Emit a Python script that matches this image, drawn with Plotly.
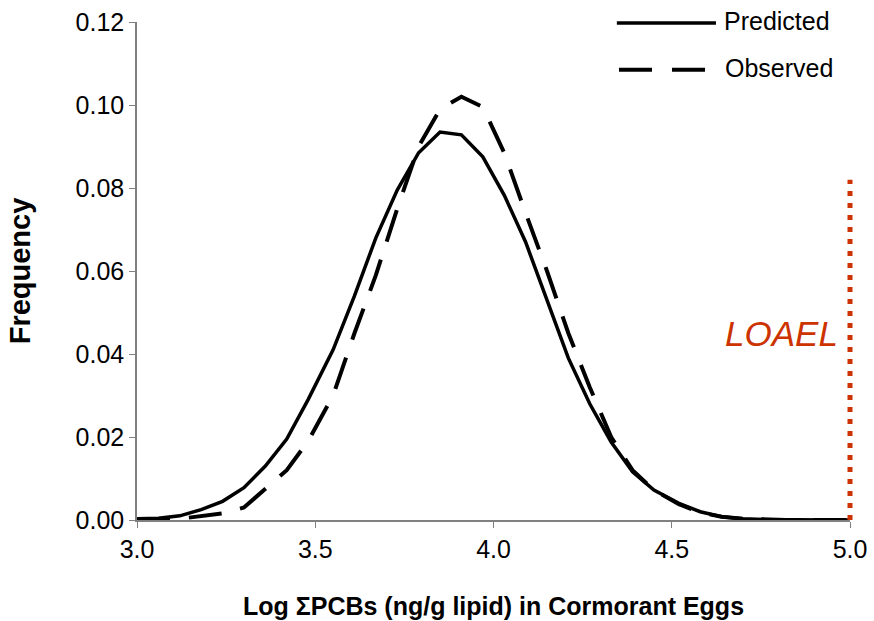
import plotly.graph_objects as go

# Log10 total PCB concentration bins (ng/g lipid)
log_pcb = [3.00, 3.06, 3.12, 3.18, 3.24, 3.30, 3.36, 3.42, 3.48, 3.55, 3.61, 3.67,
           3.73, 3.79, 3.85, 3.91, 3.97, 4.03, 4.09, 4.15, 4.21, 4.27, 4.33, 4.39,
           4.45, 4.52, 4.58, 4.64, 4.70, 4.76, 4.82, 4.88, 4.94, 5.00]

predicted = [0.0003, 0.0004, 0.0010, 0.0025, 0.0045, 0.0078, 0.0130, 0.0195, 0.0290,
             0.0410, 0.0540, 0.0680, 0.0795, 0.0885, 0.0935, 0.0928, 0.0875, 0.0783,
             0.0670, 0.0530, 0.0390, 0.0280, 0.0188, 0.0116, 0.0072, 0.0040, 0.0020,
             0.0008, 0.0003, 0.0001, 0.0000, 0.0000, 0.0000, 0.0000]

observed = [0.0000, 0.0000, 0.0003, 0.0010, 0.0016, 0.0030, 0.0075, 0.0120, 0.0190,
            0.0300, 0.0450, 0.0590, 0.0750, 0.0900, 0.0990, 0.1020, 0.0995, 0.0885,
            0.0740, 0.0600, 0.0450, 0.0320, 0.0200, 0.0120, 0.0072, 0.0038, 0.0018,
            0.0008, 0.0003, 0.0001, 0.0000, 0.0000, 0.0000, 0.0000]

loael_x = 5.0
loael_top = 0.082
loael_label_y = 0.045

x_range = [3.0, 5.0]
y_range = [0.0, 0.12]
x_ticks = [3.0, 3.5, 4.0, 4.5, 5.0]
y_ticks = [0.00, 0.02, 0.04, 0.06, 0.08, 0.10, 0.12]

FONT = "Liberation Sans, Arial, sans-serif"
RED = "#cc3300"

fig = go.Figure()

fig.add_trace(go.Scatter(
    x=log_pcb, y=predicted, mode="lines", name="Predicted",
    line=dict(color="black", width=3.5), showlegend=False,
))
fig.add_trace(go.Scatter(
    x=log_pcb, y=observed, mode="lines", name="Observed",
    line=dict(color="black", width=4, dash="33px,19px"), showlegend=False,
))

# LOAEL threshold: paper-referenced in x so the dotted line is not clipped
# at the right edge of the plotting area
loael_paper_x = (loael_x - x_range[0]) / (x_range[1] - x_range[0])
fig.add_shape(type="line", xref="paper", yref="y",
              x0=loael_paper_x, x1=loael_paper_x, y0=0, y1=loael_top,
              line=dict(color=RED, width=5, dash="5px,7px"), layer="above")
fig.add_annotation(
    x=loael_x, y=loael_label_y, xref="x", yref="y", text="<i>LOAEL</i>",
    showarrow=False, xanchor="right", xshift=-10,
    font=dict(family=FONT, size=35, color=RED),
)

# Legend drawn with paper-referenced samples
fig.add_shape(type="line", xref="paper", yref="paper",
              x0=0.673, x1=0.812, y0=0.998, y1=0.998,
              line=dict(color="black", width=3.5))
fig.add_shape(type="line", xref="paper", yref="paper",
              x0=0.676, x1=0.797, y0=0.904, y1=0.904,
              line=dict(color="black", width=4, dash="33px,20px"))
fig.add_annotation(xref="paper", yref="paper", x=0.820, y=0.998, text="Predicted",
                   showarrow=False, xanchor="left", yanchor="middle", yshift=2,
                   font=dict(family=FONT, size=25, color="black"))
fig.add_annotation(xref="paper", yref="paper", x=0.822, y=0.904, text="Observed",
                   showarrow=False, xanchor="left", yanchor="middle", yshift=2,
                   font=dict(family=FONT, size=25, color="black"))

fig.update_layout(
    width=874, height=621,
    margin=dict(l=137, r=24, t=22, b=101),
    plot_bgcolor="white", paper_bgcolor="white",
    font=dict(family=FONT, color="black"),
)
fig.update_xaxes(
    range=x_range, tickvals=x_ticks, ticktext=[f"{v:.1f}" for v in x_ticks],
    showgrid=False, zeroline=False, showline=True, linecolor="#808080", linewidth=1.5,
    ticks="outside", ticklen=6, tickcolor="#808080", tickfont=dict(size=25),
    automargin=False,
    title=dict(text="<b>Log ΣPCBs (ng/g lipid) in Cormorant Eggs</b>",
               font=dict(size=25), standoff=36),
)
fig.update_yaxes(
    range=y_range, tickvals=y_ticks, ticktext=[f"{v:.2f}" for v in y_ticks],
    showgrid=False, zeroline=False, showline=True, linecolor="#808080", linewidth=1.5,
    ticks="outside", ticklen=6, tickcolor="#808080", tickfont=dict(size=25),
    automargin=False,
    title=dict(text="<b>Frequency</b>", font=dict(size=29), standoff=36),
)

fig.write_html("out.html")
